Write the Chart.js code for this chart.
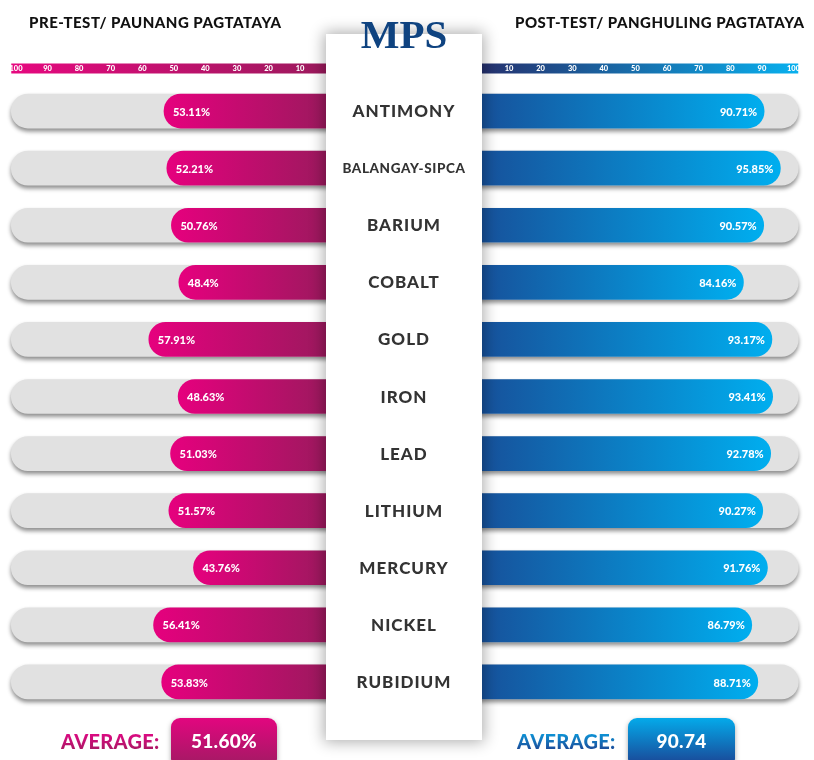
<!DOCTYPE html>
<html><head><meta charset="utf-8">
<script src="https://cdn.jsdelivr.net/npm/chart.js@4.4.0/dist/chart.umd.min.js"></script>
<style>
html,body{margin:0;padding:0;background:#fff;width:814px;height:760px;overflow:hidden;font-family:Lato,sans-serif}
#wrap{position:relative;width:814px;height:760px;overflow:hidden}
#leftBox{position:absolute;left:0;top:0;width:340px;height:760px}
#rightBox{position:absolute;left:470px;top:0;width:344px;height:760px}
#panel{position:absolute;left:326px;top:34px;width:156px;height:706px;background:#fff;box-shadow:0 0 14px 2px rgba(0,0,0,0.32);z-index:5}
.hdr{position:absolute;top:13px;font:900 15px Lato,sans-serif;color:#111;white-space:nowrap;letter-spacing:0.5px}
#mps{position:absolute;left:326px;width:156px;top:10px;text-align:center;font:bold 41px "Liberation Serif",serif;color:#0f4380;z-index:6;line-height:48px}
.cat{position:absolute;left:0;width:156px;text-align:center;font:900 17px Lato,sans-serif;color:#333;letter-spacing:1px;line-height:20px;white-space:nowrap}
.cat span{display:inline-block}
.avgLbl{position:absolute;top:730px;font:900 20px Lato,sans-serif;line-height:22px;-webkit-background-clip:text;background-clip:text;-webkit-text-fill-color:transparent;color:transparent;letter-spacing:0.3px}
.avgBox{position:absolute;top:718px;height:50px;border-radius:9px;color:#fff;font:900 19px Lato,sans-serif;text-align:center;line-height:46px;box-shadow:0 2px 5px rgba(0,0,0,0.35);letter-spacing:0.3px}
</style></head>
<body><div id="wrap">
<div id="leftBox"><canvas id="cLeft" width="340" height="760"></canvas></div>
<div id="rightBox"><canvas id="cRight" width="344" height="760"></canvas></div>
<div class="hdr" style="left:29px">PRE-TEST/ PAUNANG PAGTATAYA</div>
<div class="hdr" style="left:515px">POST-TEST/ PANGHULING PAGTATAYA</div>
<div id="panel"></div>
<div id="mps">MPS</div>
<div class="avgLbl" id="avgLblL" style="left:61px;background-image:linear-gradient(#e8078a,#a3195f)">AVERAGE:</div>
<div class="avgBox" id="avgBoxL" style="left:171px;width:106px;background:linear-gradient(#e2067f,#9f1b62)"></div>
<div class="avgLbl" id="avgLblR" style="left:517px;background-image:linear-gradient(#0aa6e6,#1e3f8f)">AVERAGE:</div>
<div class="avgBox" id="avgBoxR" style="left:628px;width:107px;background:linear-gradient(#04aaea,#1c3f90)"></div>
</div>
<script>
const categories = ['ANTIMONY','BALANGAY-SIPCA','BARIUM','COBALT','GOLD','IRON','LEAD','LITHIUM','MERCURY','NICKEL','RUBIDIUM'];
const preTest  = [53.11, 52.21, 50.76, 48.4, 57.91, 48.63, 51.03, 51.57, 43.76, 56.41, 53.83];
const postTest = [90.71, 95.85, 90.57, 84.16, 93.17, 93.41, 92.78, 90.27, 91.76, 86.79, 88.71];
const axisTicks = [10, 20, 30, 40, 50, 60, 70, 80, 90, 100];
const trackEnd = 101.5;
const trackValues = categories.map(() => trackEnd);

function barGradient(c0, c1) {
  return (ctx) => {
    const chart = ctx.chart;
    if (!chart.chartArea || ctx.type !== 'data') return c1;
    const sx = chart.scales.x;
    const g = chart.ctx.createLinearGradient(sx.getPixelForValue(ctx.raw), 0, sx.getPixelForValue(0), 0);
    g.addColorStop(0, c0); g.addColorStop(1, c1);
    return g;
  };
}

const shadowPlugin = {
  id: 'trackShadow',
  beforeDatasetDraw(chart, args) {
    if (chart.data.datasets[args.index].isTrack) {
      const c = chart.ctx; c.save();
      c.shadowColor = 'rgba(0,0,0,0.45)'; c.shadowOffsetY = 3; c.shadowBlur = 4;
    }
  },
  afterDatasetDraw(chart, args) {
    if (chart.data.datasets[args.index].isTrack) chart.ctx.restore();
  }
};

const bandPlugin = {
  id: 'axisBand',
  beforeDraw(chart, args, opts) {
    const sx = chart.scales.x, c = chart.ctx;
    const a = sx.getPixelForValue(trackEnd), b = sx.getPixelForValue(0);
    const g = c.createLinearGradient(a, 0, b, 0);
    g.addColorStop(0, opts.outer); g.addColorStop(1, opts.inner);
    c.save(); c.fillStyle = g;
    c.fillRect(Math.min(a, b), sx.top + 1.5, Math.abs(b - a), 10);
    c.restore();
  }
};

const labelPlugin = {
  id: 'valueLabels',
  afterDatasetsDraw(chart, args, opts) {
    const meta = chart.getDatasetMeta(0), c = chart.ctx;
    c.save();
    c.fillStyle = '#fff';
    c.font = '900 11px Lato, sans-serif';
    c.textBaseline = 'middle';
    meta.data.forEach((bar, i) => {
      const v = chart.data.datasets[0].data[i];
      const txt = v + '%';
      if (opts.side === 'left') { c.textAlign = 'left'; c.fillText(txt, bar.x + 9, bar.y + 1); }
      else { c.textAlign = 'right'; c.fillText(txt, bar.x - 7, bar.y + 1); }
    });
    c.restore();
  }
};

function makeChart(id, values, reverse, padL, padR, cOuter, cInner, bandOuter, bandInner, side) {
  return new Chart(document.getElementById(id), {
    type: 'bar',
    data: {
      labels: categories,
      datasets: [
        { data: values, backgroundColor: barGradient(cOuter, cInner), borderRadius: 17, borderSkipped: 'start', barThickness: 34, order: 0, clip: false },
        { data: trackValues, isTrack: true, backgroundColor: '#e1e1e1', borderRadius: 17, borderSkipped: 'start', barThickness: 34, order: 1, clip: false }
      ]
    },
    options: {
      indexAxis: 'y', responsive: false, animation: false, maintainAspectRatio: false,
      layout: { padding: { left: padL, right: padR, top: 62, bottom: 49.5 } },
      datasets: { bar: { grouped: false } },
      plugins: { legend: { display: false }, tooltip: { enabled: false },
        axisBand: { outer: bandOuter, inner: bandInner }, valueLabels: { side } },
      scales: {
        x: { type: 'linear', position: 'top', min: 0, max: 100, reverse,
          grid: { display: false, drawTicks: false }, border: { display: false },
          afterBuildTicks: (s) => { s.ticks = axisTicks.map(v => ({ value: v })); },
          afterFit: (s) => { s.height = 20.5; },
          ticks: { color: '#fff', font: { family: 'Lato', weight: '900', size: 7.5 }, padding: 9.5, maxRotation: 0, autoSkip: false } },
        y: { display: false }
      }
    },
    plugins: [shadowPlugin, bandPlugin, labelPlugin]
  });
}

const left = makeChart('cLeft', preTest, true, 16, 8.4, '#e6007e', '#9a1a5d', '#e6087f', '#9a1a5c', 'left');
const right = makeChart('cRight', postTest, false, 7.4, 20.5, '#00aeef', '#17509a', '#08b0ee', '#262f6c', 'right');

// category labels inside the central panel, positioned from the chart's y scale
const panel = document.getElementById('panel');
const ys = left.scales.y;
categories.forEach((name, i) => {
  const d = document.createElement('div');
  d.className = 'cat';
  const s = document.createElement('span');
  s.textContent = name;
  d.appendChild(s);
  panel.appendChild(d);
  let fs = 17;
  while (s.offsetWidth > 126 && fs > 8) { fs -= 0.5; d.style.fontSize = fs + 'px'; d.style.letterSpacing = '0.6px'; }
  d.style.top = (ys.getPixelForValue(i) - 34 - 10) + 'px';
});

const avg = (a) => a.reduce((s, v) => s + v, 0) / a.length;
document.getElementById('avgBoxL').textContent = avg(preTest).toFixed(2) + '%';
document.getElementById('avgBoxR').textContent = avg(postTest).toFixed(2);
</script>
</body></html>
